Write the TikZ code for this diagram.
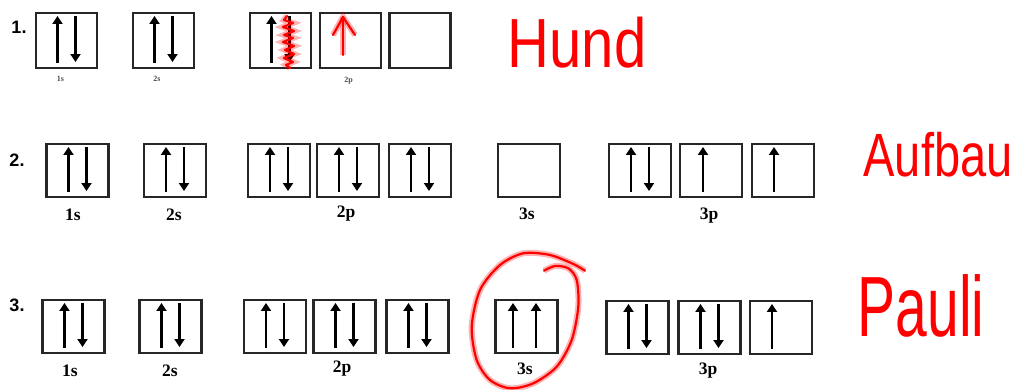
\documentclass[tikz,border=0pt]{standalone}
\usepackage{fontspec}
\setmainfont{Liberation Serif}
\newfontfamily\arialf{Liberation Sans}
\usetikzlibrary{arrows.meta}
\newcommand\spinup[2]{\draw[spin] ([xshift=#2pt,yshift=6pt]#1.south) -- ([xshift=#2pt,yshift=-4pt]#1.north);}
\newcommand\spindn[2]{\draw[spin] ([xshift=#2pt,yshift=-4pt]#1.north) -- ([xshift=#2pt,yshift=7pt]#1.south);}
\newcommand\spinpair[1]{\spinup{#1}{-9}\spindn{#1}{9}}
\begin{document}
\begin{tikzpicture}[x=1pt,y=-1pt,
  orb/.style={draw=black!85,line width=2.1pt,inner sep=0pt,minimum width=62pt,minimum height=53pt},
  orbs/.style={orb,minimum width=61pt,minimum height=55pt},
  spin/.style={line width=2.2pt,-{Triangle[width=10pt,length=8pt]}},
  lab/.style={inner sep=0pt,font=\fontsize{17.5}{17.5}\selectfont\bfseries},
  tinylab/.style={inner sep=0pt,text=black!70,font=\fontsize{8}{8}\selectfont\bfseries},
  num/.style={inner sep=0pt,font=\arialf\bfseries\fontsize{18}{18}\selectfont},
  ink/.style={draw=red,line width=2.2pt,line cap=round,line join=round,
    preaction={draw=red,opacity=0.3,line width=6pt}},
  hand/.style={inner sep=0pt,text=red,font=\arialf\fontsize{#1}{#1}\selectfont}]
\useasboundingbox (0,0) rectangle (1018,390);
\fill[white] (0,0) rectangle (1018,390);

% ---------- row 1
\node[num] (n1) at (19,27) {1.};
\node[orbs] (a1) at (66.5,40.5) {};
\node[orbs] (b1) at (163.5,40.5) {};
\node[orbs] (c1) at (280.5,40.5) {};
\node[orbs] (d1) at (350.5,40.5) {};
\node[orbs] (e1) at (420,40.5) {};
\node[tinylab] (t1s) at (60.5,79) {1s};
\node[tinylab] (t2s) at (157,79) {2s};
\node[tinylab] (t2p) at (348.5,81) {2p};
\spinpair{a1}
\spinpair{b1}
\spinpair{c1}
\draw[ink] (287,16) -- (284,20) -- (293,23) -- (283,27) -- (294,31) -- (284,35) -- (293,38)
  -- (283,42) -- (294,46) -- (285,50) -- (294,54) -- (284,58) -- (293,62) -- (286,65) -- (290,68);
\draw[ink] (343,55) -- (343,17);
\draw[ink] (333,35) -- (343,17) -- (355,35);
\node[hand=58] (hund) at (577,43) {\scalebox{1}[1.2]{Hund}};

% ---------- row 2
\node[num] (n2) at (17,160) {2.};
\node[orb] (a2) at (77.5,170.5) {};
\node[orb] (b2) at (175,170.5) {};
\node[orb] (c2) at (279,170.5) {};
\node[orb] (d2) at (348,170.5) {};
\node[orb] (e2) at (420,170.5) {};
\node[orb] (f2) at (529,170.5) {};
\node[orb] (g2) at (640,170.5) {};
\node[orb] (h2) at (711,170.5) {};
\node[orb] (i2) at (783,170.5) {};
\node[lab] (l21s) at (73,215) {1s};
\node[lab] (l22s) at (174,215) {2s};
\node[lab] (l22p) at (346,214) {2p};
\node[lab] (l23s) at (527,214) {3s};
\node[lab] (l23p) at (709,216) {3p};
\spinpair{a2}
\spinpair{b2}
\spinpair{c2}
\spinpair{d2}
\spinpair{e2}
\spinpair{g2}
\spinup{h2}{-8}
\spinup{i2}{-9}
\node[hand=47] (aufbau) at (938,155) {\scalebox{1}[1.3]{Aufbau}};

% ---------- row 3
\node[num] (n3) at (17,305) {3.};
\node[orb] (a3) at (73.5,326.5) {};
\node[orb] (b3) at (170.5,326.5) {};
\node[orb] (c3) at (275,326.5) {};
\node[orb] (d3) at (344.5,326.5) {};
\node[orb] (e3) at (417.5,326.5) {};
\node[orb] (f3) at (526.5,326.5) {};
\node[orb] (g3) at (637.5,327.5) {};
\node[orb] (h3) at (709.5,327.5) {};
\node[orb] (i3) at (781,327.5) {};
\node[lab] (l31s) at (70,371) {1s};
\node[lab] (l32s) at (170,371) {2s};
\node[lab] (l32p) at (342,369) {2p};
\node[lab] (l33s) at (525,369) {3s};
\node[lab] (l33p) at (708,371) {3p};
\spinpair{a3}
\spinpair{b3}
\spinpair{c3}
\spinpair{d3}
\spinpair{e3}
\spinup{f3}{-13.5}
\spinup{f3}{9.5}
\spinpair{g3}
\spinpair{h3}
\spinup{i3}{-9}
\draw[ink] plot[smooth] coordinates {(585,270.7) (573.3,264) (550,255) (523.3,253.3) (500,265)
  (480,290) (471.7,326.7) (476.7,360) (490,380) (510,388.3) (533.3,383.3) (556.7,366.7)
  (571.7,340) (578.3,306.7) (576.7,280) (568.3,268.3) (555,266) (544,270.7)};
\node[hand=57] (pauli) at (921,306) {\scalebox{1}[1.5]{Pauli}};
\end{tikzpicture}
\end{document}
